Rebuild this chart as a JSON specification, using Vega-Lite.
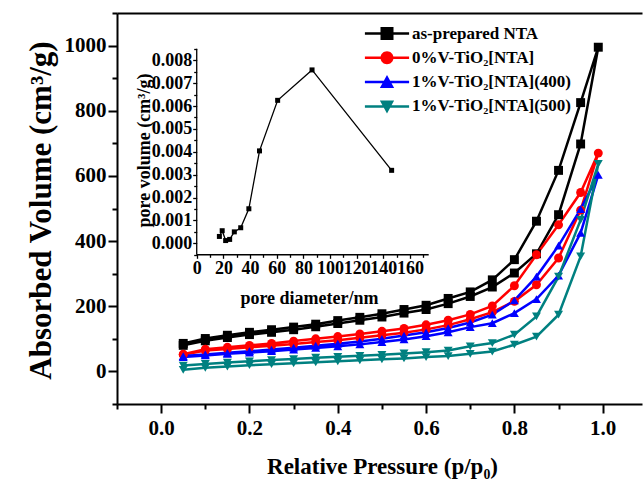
{
"$schema": "https://vega.github.io/schema/vega-lite/v6.json",
"width": 525, "height": 391,
"autosize": {"type": "none"},
"padding": {"left": 117, "top": 13, "right": 1, "bottom": 75},
"background": "white",
"config": {
 "view": {"stroke": null},
 "axis": {"grid": false, "domainColor": "#000", "tickColor": "#000", "labelColor": "#000", "titleColor": "#000",
  "labelFont": "Liberation Serif", "titleFont": "Liberation Serif", "labelFontWeight": "bold", "titleFontWeight": "bold"},
 "legend": {"labelFont": "Liberation Serif", "labelFontWeight": "bold", "labelColor": "#000"}
},
"datasets": {
 "iso": [
  {"s":"as-prepared NTA","p":0.05,"v":80,"o":1},{"s":"as-prepared NTA","p":0.1,"v":94,"o":2},{"s":"as-prepared NTA","p":0.15,"v":104,"o":3},{"s":"as-prepared NTA","p":0.2,"v":113,"o":4},{"s":"as-prepared NTA","p":0.25,"v":120,"o":5},{"s":"as-prepared NTA","p":0.3,"v":128,"o":6},{"s":"as-prepared NTA","p":0.35,"v":137,"o":7},{"s":"as-prepared NTA","p":0.4,"v":147,"o":8},{"s":"as-prepared NTA","p":0.45,"v":157,"o":9},{"s":"as-prepared NTA","p":0.5,"v":167,"o":10},{"s":"as-prepared NTA","p":0.55,"v":179,"o":11},{"s":"as-prepared NTA","p":0.6,"v":190,"o":12},{"s":"as-prepared NTA","p":0.65,"v":208,"o":13},{"s":"as-prepared NTA","p":0.7,"v":230,"o":14},{"s":"as-prepared NTA","p":0.75,"v":259,"o":15},{"s":"as-prepared NTA","p":0.8,"v":302,"o":16},{"s":"as-prepared NTA","p":0.85,"v":361,"o":17},{"s":"as-prepared NTA","p":0.9,"v":481,"o":18},{"s":"as-prepared NTA","p":0.95,"v":698,"o":19},{"s":"as-prepared NTA","p":0.99,"v":995,"o":20},
  {"s":"as-prepared NTA","p":0.95,"v":825,"o":21},{"s":"as-prepared NTA","p":0.9,"v":617,"o":22},{"s":"as-prepared NTA","p":0.85,"v":461,"o":23},{"s":"as-prepared NTA","p":0.8,"v":343,"o":24},{"s":"as-prepared NTA","p":0.75,"v":281,"o":25},{"s":"as-prepared NTA","p":0.7,"v":244,"o":26},{"s":"as-prepared NTA","p":0.65,"v":224,"o":27},{"s":"as-prepared NTA","p":0.6,"v":203,"o":28},{"s":"as-prepared NTA","p":0.55,"v":190,"o":29},{"s":"as-prepared NTA","p":0.5,"v":177,"o":30},{"s":"as-prepared NTA","p":0.45,"v":166,"o":31},{"s":"as-prepared NTA","p":0.4,"v":156,"o":32},{"s":"as-prepared NTA","p":0.35,"v":145,"o":33},{"s":"as-prepared NTA","p":0.3,"v":136,"o":34},{"s":"as-prepared NTA","p":0.25,"v":128,"o":35},{"s":"as-prepared NTA","p":0.2,"v":120,"o":36},{"s":"as-prepared NTA","p":0.15,"v":111,"o":37},{"s":"as-prepared NTA","p":0.1,"v":101,"o":38},{"s":"as-prepared NTA","p":0.05,"v":86,"o":39},
  {"s":"0%V-TiO₂[NTA]","p":0.05,"v":51,"o":1},{"s":"0%V-TiO₂[NTA]","p":0.1,"v":64,"o":2},{"s":"0%V-TiO₂[NTA]","p":0.15,"v":69,"o":3},{"s":"0%V-TiO₂[NTA]","p":0.2,"v":74,"o":4},{"s":"0%V-TiO₂[NTA]","p":0.25,"v":79,"o":5},{"s":"0%V-TiO₂[NTA]","p":0.3,"v":84,"o":6},{"s":"0%V-TiO₂[NTA]","p":0.35,"v":90,"o":7},{"s":"0%V-TiO₂[NTA]","p":0.4,"v":96,"o":8},{"s":"0%V-TiO₂[NTA]","p":0.45,"v":103,"o":9},{"s":"0%V-TiO₂[NTA]","p":0.5,"v":111,"o":10},{"s":"0%V-TiO₂[NTA]","p":0.55,"v":119,"o":11},{"s":"0%V-TiO₂[NTA]","p":0.6,"v":129,"o":12},{"s":"0%V-TiO₂[NTA]","p":0.65,"v":142,"o":13},{"s":"0%V-TiO₂[NTA]","p":0.7,"v":160,"o":14},{"s":"0%V-TiO₂[NTA]","p":0.75,"v":182,"o":15},{"s":"0%V-TiO₂[NTA]","p":0.8,"v":215,"o":16},{"s":"0%V-TiO₂[NTA]","p":0.85,"v":266,"o":17},{"s":"0%V-TiO₂[NTA]","p":0.9,"v":348,"o":18},{"s":"0%V-TiO₂[NTA]","p":0.95,"v":495,"o":19},{"s":"0%V-TiO₂[NTA]","p":0.99,"v":670,"o":20},
  {"s":"0%V-TiO₂[NTA]","p":0.95,"v":549,"o":21},{"s":"0%V-TiO₂[NTA]","p":0.9,"v":450,"o":22},{"s":"0%V-TiO₂[NTA]","p":0.85,"v":358,"o":23},{"s":"0%V-TiO₂[NTA]","p":0.8,"v":263,"o":24},{"s":"0%V-TiO₂[NTA]","p":0.75,"v":201,"o":25},{"s":"0%V-TiO₂[NTA]","p":0.7,"v":175,"o":26},{"s":"0%V-TiO₂[NTA]","p":0.65,"v":157,"o":27},{"s":"0%V-TiO₂[NTA]","p":0.6,"v":143,"o":28},{"s":"0%V-TiO₂[NTA]","p":0.55,"v":132,"o":29},{"s":"0%V-TiO₂[NTA]","p":0.5,"v":123,"o":30},{"s":"0%V-TiO₂[NTA]","p":0.45,"v":115,"o":31},{"s":"0%V-TiO₂[NTA]","p":0.4,"v":107,"o":32},{"s":"0%V-TiO₂[NTA]","p":0.35,"v":100,"o":33},{"s":"0%V-TiO₂[NTA]","p":0.3,"v":93,"o":34},{"s":"0%V-TiO₂[NTA]","p":0.25,"v":86,"o":35},{"s":"0%V-TiO₂[NTA]","p":0.2,"v":80,"o":36},{"s":"0%V-TiO₂[NTA]","p":0.15,"v":74,"o":37},{"s":"0%V-TiO₂[NTA]","p":0.1,"v":68,"o":38},{"s":"0%V-TiO₂[NTA]","p":0.05,"v":53,"o":39},
  {"s":"1%V-TiO₂[NTA](400)","p":0.05,"v":44,"o":1},{"s":"1%V-TiO₂[NTA](400)","p":0.1,"v":49,"o":2},{"s":"1%V-TiO₂[NTA](400)","p":0.15,"v":54,"o":3},{"s":"1%V-TiO₂[NTA](400)","p":0.2,"v":58,"o":4},{"s":"1%V-TiO₂[NTA](400)","p":0.25,"v":62,"o":5},{"s":"1%V-TiO₂[NTA](400)","p":0.3,"v":67,"o":6},{"s":"1%V-TiO₂[NTA](400)","p":0.35,"v":72,"o":7},{"s":"1%V-TiO₂[NTA](400)","p":0.4,"v":77,"o":8},{"s":"1%V-TiO₂[NTA](400)","p":0.45,"v":83,"o":9},{"s":"1%V-TiO₂[NTA](400)","p":0.5,"v":90,"o":10},{"s":"1%V-TiO₂[NTA](400)","p":0.55,"v":98,"o":11},{"s":"1%V-TiO₂[NTA](400)","p":0.6,"v":108,"o":12},{"s":"1%V-TiO₂[NTA](400)","p":0.65,"v":120,"o":13},{"s":"1%V-TiO₂[NTA](400)","p":0.7,"v":136,"o":14},{"s":"1%V-TiO₂[NTA](400)","p":0.75,"v":148,"o":15},{"s":"1%V-TiO₂[NTA](400)","p":0.8,"v":179,"o":16},{"s":"1%V-TiO₂[NTA](400)","p":0.85,"v":222,"o":17},{"s":"1%V-TiO₂[NTA](400)","p":0.9,"v":294,"o":18},{"s":"1%V-TiO₂[NTA](400)","p":0.95,"v":425,"o":19},{"s":"1%V-TiO₂[NTA](400)","p":0.99,"v":603,"o":20},
  {"s":"1%V-TiO₂[NTA](400)","p":0.95,"v":498,"o":21},{"s":"1%V-TiO₂[NTA](400)","p":0.9,"v":386,"o":22},{"s":"1%V-TiO₂[NTA](400)","p":0.85,"v":291,"o":23},{"s":"1%V-TiO₂[NTA](400)","p":0.8,"v":218,"o":24},{"s":"1%V-TiO₂[NTA](400)","p":0.75,"v":174,"o":25},{"s":"1%V-TiO₂[NTA](400)","p":0.7,"v":150,"o":26},{"s":"1%V-TiO₂[NTA](400)","p":0.65,"v":133,"o":27},{"s":"1%V-TiO₂[NTA](400)","p":0.6,"v":120,"o":28},{"s":"1%V-TiO₂[NTA](400)","p":0.55,"v":110,"o":29},{"s":"1%V-TiO₂[NTA](400)","p":0.5,"v":100,"o":30},{"s":"1%V-TiO₂[NTA](400)","p":0.45,"v":92,"o":31},{"s":"1%V-TiO₂[NTA](400)","p":0.4,"v":85,"o":32},{"s":"1%V-TiO₂[NTA](400)","p":0.35,"v":79,"o":33},{"s":"1%V-TiO₂[NTA](400)","p":0.3,"v":73,"o":34},{"s":"1%V-TiO₂[NTA](400)","p":0.25,"v":67,"o":35},{"s":"1%V-TiO₂[NTA](400)","p":0.2,"v":62,"o":36},{"s":"1%V-TiO₂[NTA](400)","p":0.15,"v":57,"o":37},{"s":"1%V-TiO₂[NTA](400)","p":0.1,"v":52,"o":38},{"s":"1%V-TiO₂[NTA](400)","p":0.05,"v":47,"o":39},
  {"s":"1%V-TiO₂[NTA](500)","p":0.05,"v":5,"o":1},{"s":"1%V-TiO₂[NTA](500)","p":0.1,"v":11,"o":2},{"s":"1%V-TiO₂[NTA](500)","p":0.15,"v":15,"o":3},{"s":"1%V-TiO₂[NTA](500)","p":0.2,"v":19,"o":4},{"s":"1%V-TiO₂[NTA](500)","p":0.25,"v":22,"o":5},{"s":"1%V-TiO₂[NTA](500)","p":0.3,"v":25,"o":6},{"s":"1%V-TiO₂[NTA](500)","p":0.35,"v":28,"o":7},{"s":"1%V-TiO₂[NTA](500)","p":0.4,"v":31,"o":8},{"s":"1%V-TiO₂[NTA](500)","p":0.45,"v":34,"o":9},{"s":"1%V-TiO₂[NTA](500)","p":0.5,"v":37,"o":10},{"s":"1%V-TiO₂[NTA](500)","p":0.55,"v":40,"o":11},{"s":"1%V-TiO₂[NTA](500)","p":0.6,"v":44,"o":12},{"s":"1%V-TiO₂[NTA](500)","p":0.65,"v":47,"o":13},{"s":"1%V-TiO₂[NTA](500)","p":0.7,"v":54,"o":14},{"s":"1%V-TiO₂[NTA](500)","p":0.75,"v":61,"o":15},{"s":"1%V-TiO₂[NTA](500)","p":0.8,"v":82,"o":16},{"s":"1%V-TiO₂[NTA](500)","p":0.85,"v":107,"o":17},{"s":"1%V-TiO₂[NTA](500)","p":0.9,"v":174,"o":18},{"s":"1%V-TiO₂[NTA](500)","p":0.95,"v":353,"o":19},{"s":"1%V-TiO₂[NTA](500)","p":0.99,"v":637,"o":20},
  {"s":"1%V-TiO₂[NTA](500)","p":0.95,"v":465,"o":21},{"s":"1%V-TiO₂[NTA](500)","p":0.9,"v":291,"o":22},{"s":"1%V-TiO₂[NTA](500)","p":0.85,"v":169,"o":23},{"s":"1%V-TiO₂[NTA](500)","p":0.8,"v":113,"o":24},{"s":"1%V-TiO₂[NTA](500)","p":0.75,"v":87,"o":25},{"s":"1%V-TiO₂[NTA](500)","p":0.7,"v":77,"o":26},{"s":"1%V-TiO₂[NTA](500)","p":0.65,"v":64,"o":27},{"s":"1%V-TiO₂[NTA](500)","p":0.6,"v":59,"o":28},{"s":"1%V-TiO₂[NTA](500)","p":0.55,"v":55,"o":29},{"s":"1%V-TiO₂[NTA](500)","p":0.5,"v":51,"o":30},{"s":"1%V-TiO₂[NTA](500)","p":0.45,"v":48,"o":31},{"s":"1%V-TiO₂[NTA](500)","p":0.4,"v":45,"o":32},{"s":"1%V-TiO₂[NTA](500)","p":0.35,"v":42,"o":33},{"s":"1%V-TiO₂[NTA](500)","p":0.3,"v":38,"o":34},{"s":"1%V-TiO₂[NTA](500)","p":0.25,"v":35,"o":35},{"s":"1%V-TiO₂[NTA](500)","p":0.2,"v":31,"o":36},{"s":"1%V-TiO₂[NTA](500)","p":0.15,"v":27,"o":37},{"s":"1%V-TiO₂[NTA](500)","p":0.1,"v":23,"o":38},{"s":"1%V-TiO₂[NTA](500)","p":0.05,"v":18,"o":39}
 ],
 "psd": [
  {"d":17.0,"pv":0.00030},{"d":19.1,"pv":0.00055},{"d":21.7,"pv":0.00012},{"d":24.7,"pv":0.00017},{"d":28.2,"pv":0.00050},{"d":33.0,"pv":0.00068},{"d":39.1,"pv":0.00151},{"d":47.1,"pv":0.00404},{"d":60.7,"pv":0.00625},{"d":86.5,"pv":0.00758},{"d":146.2,"pv":0.00319}
 ],
 "one": [{"k": 1}]
},
"layer": [
 {
  "data": {"name": "iso"},
  "mark": {"type": "line", "strokeWidth": 2.5},
  "encoding": {
   "x": {"field": "p", "type": "quantitative", "scale": {"domain": [-0.1, 1.089], "nice": false, "zero": false},
    "axis": {"orient": "bottom", "values": [0, 0.2, 0.4, 0.6, 0.8, 1.0], "format": ".1f", "tickSize": 9, "tickWidth": 2, "domainWidth": 2,
     "labelFontSize": 21, "labelPadding": 4, "labelFlush": false,
     "title": "Relative Pressure (p/p₀)", "titleFontSize": 23, "titleX": 265, "titleY": 69, "titleAlign": "center", "titleBaseline": "alphabetic"}},
   "y": {"field": "v", "type": "quantitative", "scale": {"domain": [-100, 1100], "nice": false, "zero": false},
    "axis": {"orient": "left", "values": [0, 200, 400, 600, 800, 1000], "format": "d", "tickSize": 9, "tickWidth": 2, "domainWidth": 2,
     "labelFontSize": 21, "labelPadding": 2, "labelFlush": false,
     "title": "Absorbed Volume (cm³/g)", "titleFontSize": 31, "titleAngle": 270, "titleX": -67, "titleY": 197, "titleAlign": "center", "titleBaseline": "alphabetic"}},
   "color": {"field": "s", "type": "nominal", "scale": {"domain": ["as-prepared NTA", "0%V-TiO₂[NTA]", "1%V-TiO₂[NTA](400)", "1%V-TiO₂[NTA](500)"], "range": ["#000000", "#ff0000", "#0000ff", "#008080"]}, "legend": null},
   "order": {"field": "o", "type": "quantitative"}
  }
 },
 {
  "data": {"name": "iso"},
  "mark": {"type": "point", "filled": true, "size": 80, "opacity": 1},
  "encoding": {
   "x": {"field": "p", "type": "quantitative", "scale": {"domain": [-0.1, 1.089], "nice": false, "zero": false},
    "axis": {"orient": "bottom", "values": [-0.1, 0.1, 0.3, 0.5, 0.7, 0.9], "labels": false, "domain": false, "tickSize": 5, "tickWidth": 2, "title": null}},
   "y": {"field": "v", "type": "quantitative", "scale": {"domain": [-100, 1100], "nice": false, "zero": false},
    "axis": {"orient": "left", "values": [-100, 100, 300, 500, 700, 900, 1100], "labels": false, "domain": false, "tickSize": 5, "tickWidth": 2, "title": null}},
   "color": {"field": "s", "type": "nominal", "scale": {"domain": ["as-prepared NTA", "0%V-TiO₂[NTA]", "1%V-TiO₂[NTA](400)", "1%V-TiO₂[NTA](500)"], "range": ["#000000", "#ff0000", "#0000ff", "#008080"]}, "legend": null},
   "shape": {"field": "s", "type": "nominal", "scale": {"domain": ["as-prepared NTA", "0%V-TiO₂[NTA]", "1%V-TiO₂[NTA](400)", "1%V-TiO₂[NTA](500)"], "range": ["square", "circle", "triangle-up", "triangle-down"]}, "legend": null}
  }
 },
 {
  "data": {"name": "psd"},
  "mark": {"type": "line", "strokeWidth": 1.3, "color": "#000"},
  "encoding": {
   "x": {"field": "d", "type": "quantitative", "scale": {"domain": [-59.8, 334.0], "nice": false, "zero": false},
    "axis": {"orient": "bottom", "offset": -149.7, "values": [0, 20, 40, 60, 80, 100, 120, 140, 160], "domain": false, "tickSize": 4, "tickWidth": 1.3,
     "labelFontSize": 18, "labelPadding": 1, "labelOverlap": false, "labelFlush": false, "labelBound": false,
     "title": "pore diameter/nm", "titleFontSize": 18, "titleX": 192, "titleY": 49, "titleAlign": "center", "titleBaseline": "alphabetic"}},
   "y": {"field": "pv", "type": "quantitative", "scale": {"domain": [-0.007025, 0.010068], "nice": false, "zero": false},
    "axis": {"orient": "left", "offset": -79.7, "values": [0, 0.001, 0.002, 0.003, 0.004, 0.005, 0.006, 0.007, 0.008], "format": ".3f", "domain": false, "tickSize": 4, "tickWidth": 1.3,
     "labelFontSize": 18, "labelPadding": 1, "labelOverlap": false, "labelFlush": false, "labelBound": false,
     "title": "pore volume (cm³/g)", "titleFontSize": 18, "titleAngle": 270, "titleX": -47, "titleY": 137, "titleAlign": "center", "titleBaseline": "alphabetic"}}
  }
 },
 {
  "data": {"name": "psd"},
  "mark": {"type": "point", "filled": true, "shape": "square", "size": 25, "color": "#000", "opacity": 1},
  "encoding": {
   "x": {"field": "d", "type": "quantitative", "scale": {"domain": [-59.8, 334.0], "nice": false, "zero": false},
    "axis": {"orient": "bottom", "offset": -149.7, "values": [10, 30, 50, 70, 90, 110, 130, 150, 170], "labels": false, "domain": false, "tickSize": 3, "tickWidth": 1.3, "title": null}},
   "y": {"field": "pv", "type": "quantitative", "scale": {"domain": [-0.007025, 0.010068], "nice": false, "zero": false},
    "axis": {"orient": "left", "offset": -79.7, "values": [-0.0005, 0.0005, 0.0015, 0.0025, 0.0035, 0.0045, 0.0055, 0.0065, 0.0075, 0.0085], "labels": false, "domain": false, "tickSize": 3, "tickWidth": 1.3, "title": null}}
  }
 },
 {
  "data": {"name": "one"},
  "mark": {"type": "rule", "strokeWidth": 1.3, "color": "#000"},
  "encoding": {
   "x": {"datum": 0, "type": "quantitative", "scale": {"domain": [-59.8, 334.0], "nice": false, "zero": false}, "axis": null},
   "y": {"datum": -0.0005, "type": "quantitative", "scale": {"domain": [-0.007025, 0.010068], "nice": false, "zero": false}, "axis": null},
   "y2": {"datum": 0.0085}
  }
 },
 {
  "data": {"name": "one"},
  "mark": {"type": "rule", "strokeWidth": 1.3, "color": "#000"},
  "encoding": {
   "x": {"datum": 0, "type": "quantitative", "scale": {"domain": [-59.8, 334.0], "nice": false, "zero": false}, "axis": null},
   "x2": {"datum": 174},
   "y": {"datum": -0.0005, "type": "quantitative", "scale": {"domain": [-0.007025, 0.010068], "nice": false, "zero": false}, "axis": null}
  }
 },
 {
  "data": {"name": "iso"},
  "transform": [{"filter": "datum.p > 5"}],
  "mark": {"type": "point", "filled": true},
  "encoding": {
   "x": {"field": "p", "type": "quantitative", "scale": {"domain": [-0.1, 1.089], "nice": false, "zero": false},
    "axis": {"orient": "top", "ticks": false, "labels": false, "domain": true, "domainWidth": 2, "title": null}},
   "color": {"field": "s", "type": "nominal", "scale": {"domain": ["as-prepared NTA", "0%V-TiO₂[NTA]", "1%V-TiO₂[NTA](400)", "1%V-TiO₂[NTA](500)"], "range": ["#000000", "#ff0000", "#0000ff", "#008080"]},
    "legend": {"orient": "none", "legendX": 261.5, "legendY": 12, "title": null, "padding": 0, "symbolSize": 169, "symbolStrokeWidth": 0, "symbolOpacity": 1, "labelFontSize": 17, "labelOffset": 16.5, "rowPadding": 6.3}},
   "shape": {"field": "s", "type": "nominal", "scale": {"domain": ["as-prepared NTA", "0%V-TiO₂[NTA]", "1%V-TiO₂[NTA](400)", "1%V-TiO₂[NTA](500)"],
     "range": ["M-3.4,-0.19H-1V-1H1V-0.19H3.4V0.19H1V1H-1V0.19H-3.4Z", "M-3.4,-0.19H3.4V0.19H-3.4Z M-1,0A1,1 0 1,1 1,0A1,1 0 1,1 -1,0Z", "M-3.4,-0.19H3.4V0.19H-3.4Z M0,-1.1L1.1,0.9L-1.1,0.9Z", "M-3.4,-0.19H3.4V0.19H-3.4Z M0,1.1L-1.1,-0.9L1.1,-0.9Z"]},
    "legend": {"orient": "none", "legendX": 261.5, "legendY": 12, "title": null, "padding": 0, "symbolSize": 169, "symbolStrokeWidth": 0, "symbolOpacity": 1, "labelFontSize": 17, "labelOffset": 16.5, "rowPadding": 6.3}}
  }
 }
],
"resolve": {
 "scale": {"x": "independent", "y": "independent", "color": "independent", "shape": "independent"},
 "axis": {"x": "independent", "y": "independent"},
 "legend": {"color": "independent", "shape": "independent"}
}
}
